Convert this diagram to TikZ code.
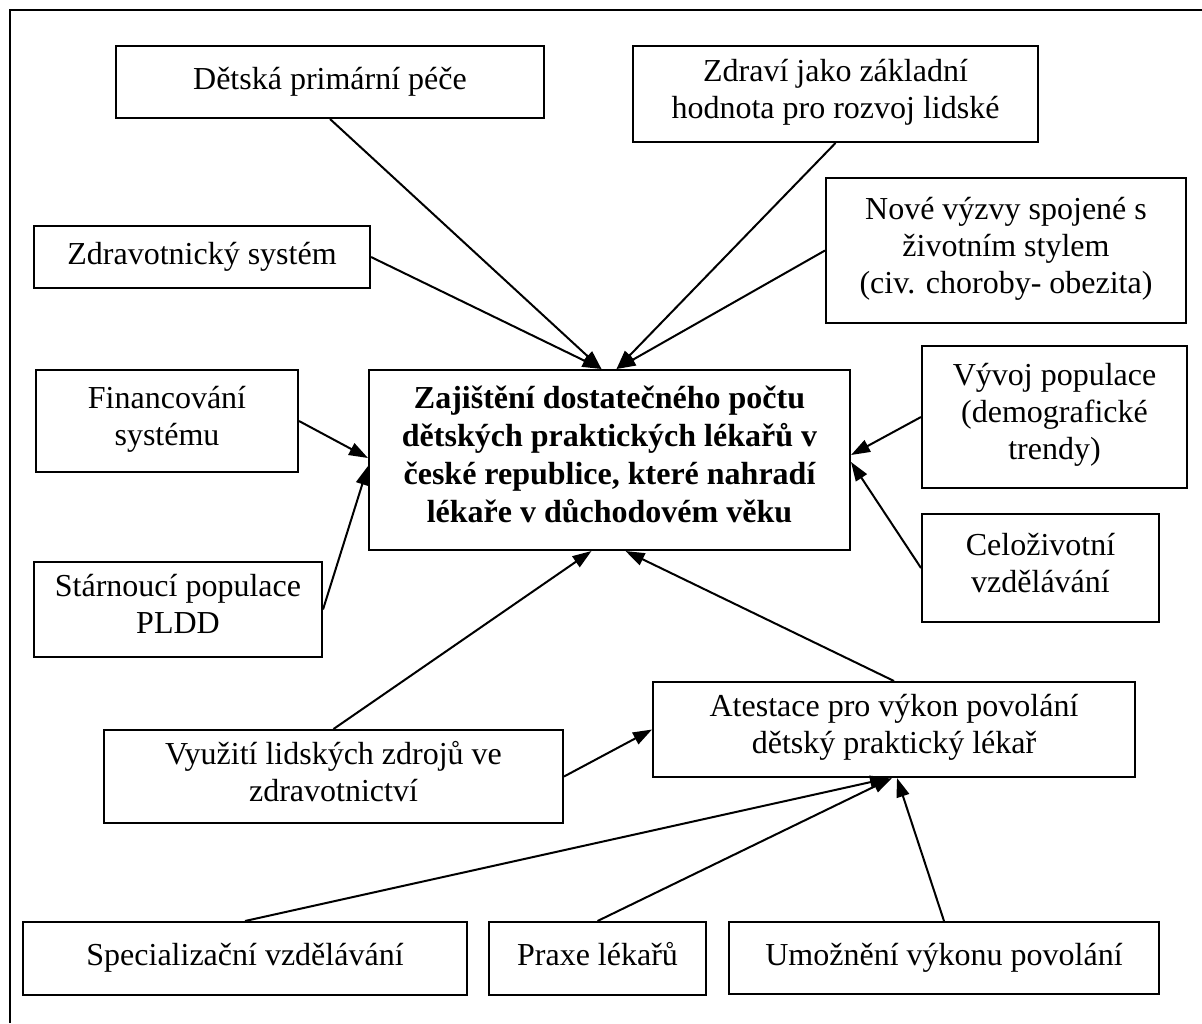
\documentclass[tikz,border=0pt]{standalone}
\usepackage{fontspec}
\setmainfont{Liberation Serif}
\usetikzlibrary{arrows.meta,calc}
\begin{document}
\begin{tikzpicture}[x=0.5pt,y=-0.5pt,
  box/.style={draw, line width=1pt, inner sep=0pt, align=center,
    font=\fontsize{16pt}{18.5pt}\selectfont,
    execute at begin node=\strut, execute at end node=\strut},
  goalbox/.style={box, font=\fontsize{16pt}{19pt}\selectfont\bfseries},
  sz/.style 2 args={minimum width=#1*0.5pt, minimum height=#2*0.5pt},
  link/.style={line width=1pt, -{Triangle[length=9.5pt,width=6.5pt]}}]
\useasboundingbox (0,0) rectangle (1202,1023);
% outer frame (left and top edges)
\draw[line width=1pt] (10,1023) -- (10,10) -- (1202,10);

% central goal
\node[goalbox, sz={481}{180}] (goal) at (609.5,460)
  {Zajištění dostatečného počtu\\dětských praktických lékařů v\\české republice, které nahradí\\lékaře v důchodovém věku};

% influencing factors
\node[box, sz={428}{72}]  (dpp) at (330,82)     {Dětská primární péče};
\node[box, sz={405}{96}]  (zdr) at (835.5,94)   {Zdraví jako základní\\hodnota pro rozvoj lidské};
\node[box, sz={336}{62}]  (zsy) at (202,257)    {Zdravotnický systém};
\node[box, sz={360}{145}] (nvz) at (1006,250.5) {Nové výzvy spojené s\\životním stylem\\(civ. choroby- obezita)};
\node[box, sz={262}{102}] (fin) at (167,421)    {Financování\\systému};
\node[box, sz={265}{142}] (vyv) at (1054.5,417) {Vývoj populace\\(demografické\\trendy)};
\node[box, sz={237}{108}] (cel) at (1040.5,568) {Celoživotní\\vzdělávání};
\node[box, sz={288}{95}]  (sta) at (178,609.5)  {Stárnoucí populace\\PLDD};
\node[box, sz={482}{95}]  (ate) at (894,729.5)  {Atestace pro výkon povolání\\dětský praktický lékař};
\node[box, sz={459}{93}]  (vyu) at (333.5,776.5) {Využití lidských zdrojů ve\\zdravotnictví};
\node[box, sz={444}{73}]  (spe) at (245,958.5)  {Specializační vzdělávání};
\node[box, sz={217}{73}]  (pra) at (597.5,958.5) {Praxe lékařů};
\node[box, sz={430}{72}]  (umo) at (944,958)    {Umožnění výkonu povolání};

% connectors into the goal
\draw[link] (dpp.south) -- ($(goal.north)+(-8,0)$);
\draw[link] (zsy.east)  -- ($(goal.north)+(-8,0)$);
\draw[link] (zdr.south) -- ($(goal.north)+(7,0)$);
\draw[link] (nvz.west)  -- ($(goal.north)+(7,0)$);
\draw[link] (fin.east)  -- ($(goal.west)+(0,-2)$);
\draw[link] (sta.east)  -- ($(goal.west)+(0,6)$);
\draw[link] (vyv.west)  -- ($(goal.east)+(0,-5)$);
\draw[link] (cel.west)  -- ($(goal.east)+(0,2)$);
\draw[link] (vyu.north) -- ($(goal.south)+(-18,0)$);
\draw[link] (ate.north) -- ($(goal.south)+(16,0)$);

% connectors into the attestation box
\draw[link] (vyu.east)  -- (ate.west);
\draw[link] (spe.north) -- ($(ate.south)+(-5,0)$);
\draw[link] (pra.north) -- ($(ate.south)+(-2,0)$);
\draw[link] (umo.north) -- ($(ate.south)+(3,0)$);
\end{tikzpicture}
\end{document}
